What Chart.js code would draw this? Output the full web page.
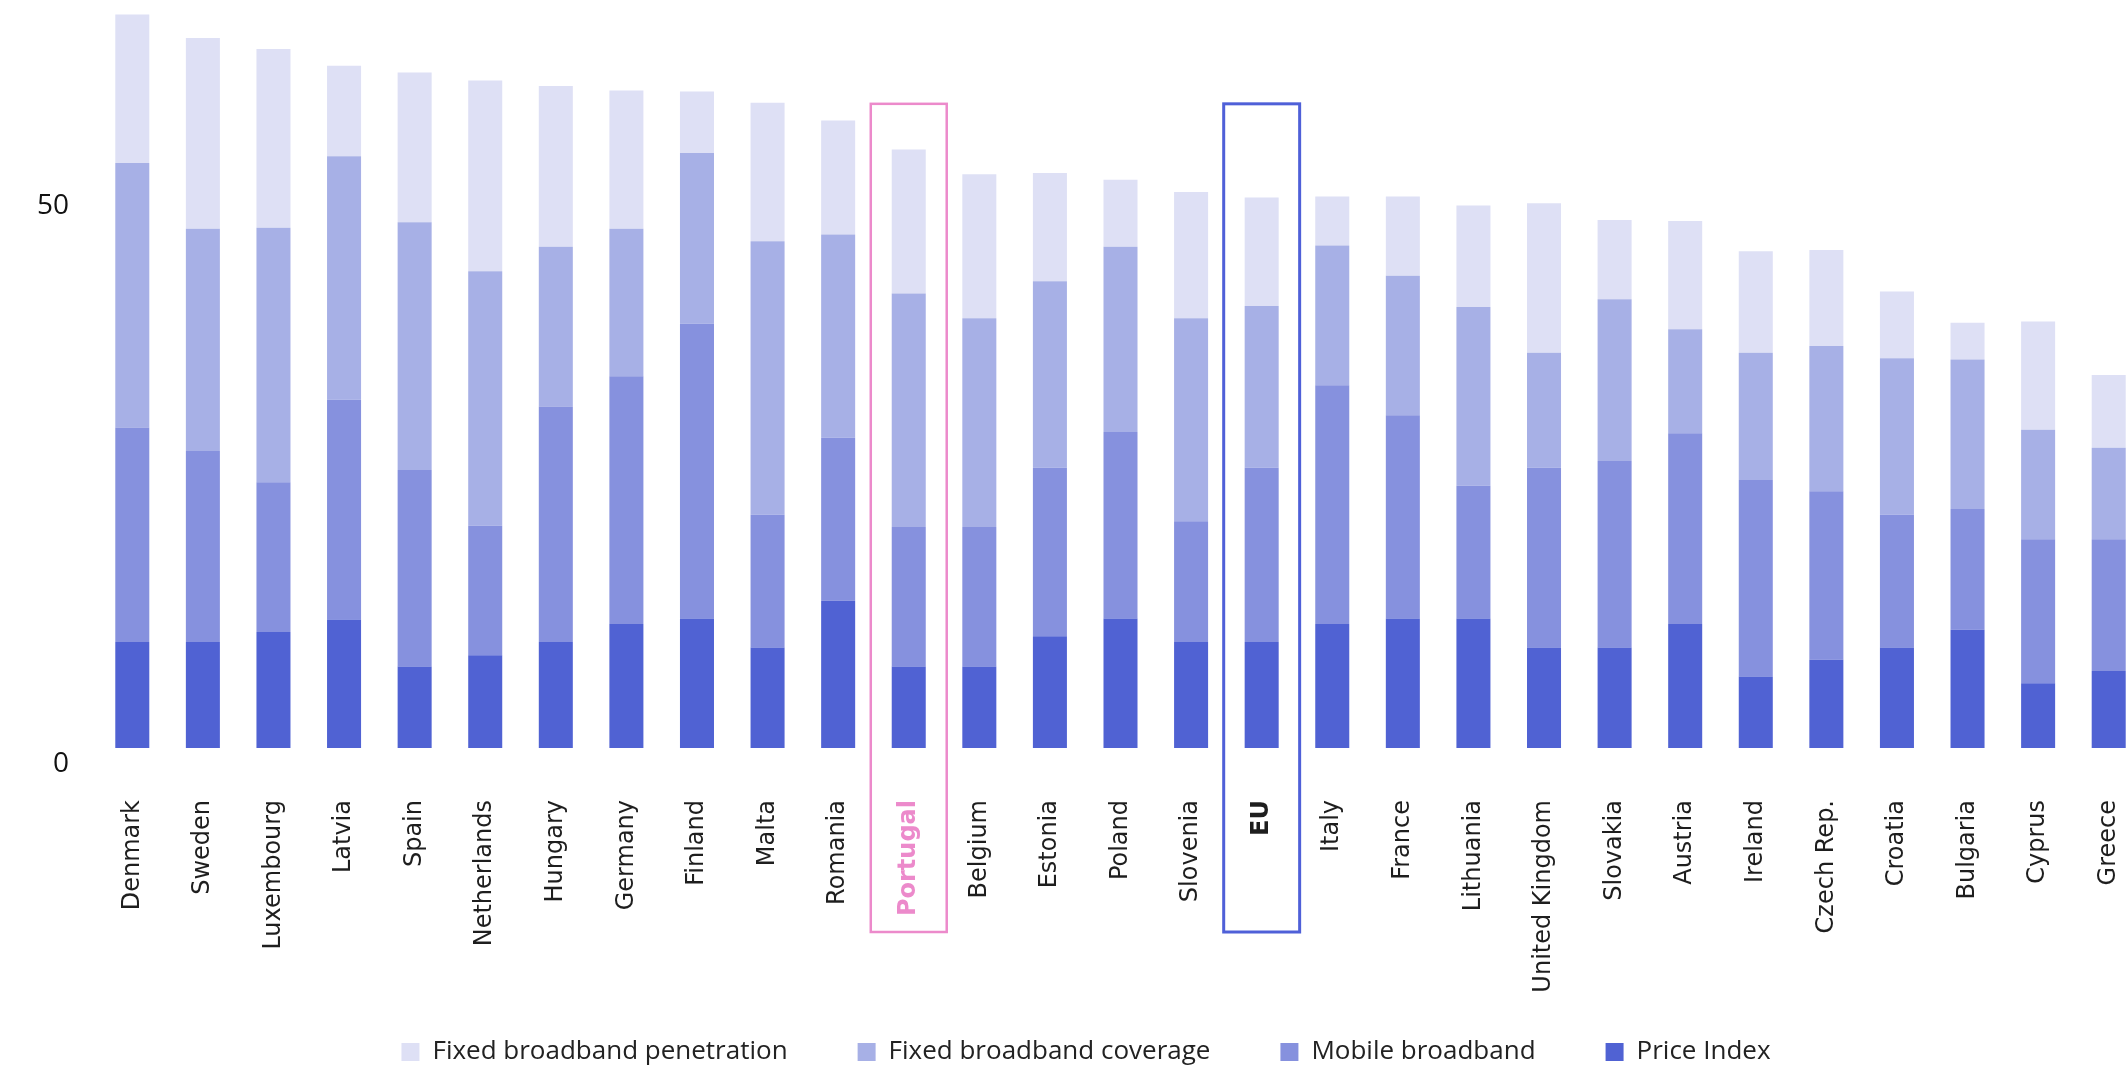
<!DOCTYPE html>
<html lang="en">
<head>
  <meta charset="UTF-8" />
  <title>Broadband index by country</title>
  <script src="https://cdn.jsdelivr.net/npm/chart.js"></script>
  <style>
    html, body { margin: 0; padding: 0; background: #fff; overflow: hidden; }
    .wrap { position: absolute; left: 0; top: 0; width: 2150px; height: 1071px; }
  </style>
</head>
<body>
  <div class="wrap">
    <canvas id="chart"></canvas>
  </div>

  <script>
    const countries = ["Denmark", "Sweden", "Luxembourg", "Latvia", "Spain", "Netherlands", "Hungary",
      "Germany", "Finland", "Malta", "Romania", "Portugal", "Belgium", "Estonia", "Poland", "Slovenia",
      "EU", "Italy", "France", "Lithuania", "United Kingdom", "Slovakia", "Austria", "Ireland",
      "Czech Rep.", "Croatia", "Bulgaria", "Cyprus", "Greece"];

    const priceIndex = [9.5, 9.5, 10.4, 11.5, 7.3, 8.3, 9.5, 11.1, 11.6, 9.0, 13.2, 7.3, 7.3, 10.0, 11.6,
      9.5, 9.5, 11.1, 11.6, 11.6, 9.0, 9.0, 11.1, 6.4, 7.9, 9.0, 10.6, 5.8, 6.9];
    const mobileBroadband = [19.2, 17.1, 13.4, 19.7, 17.6, 11.6, 21.1, 22.2, 26.4, 11.9, 14.6, 12.5, 12.5, 15.1, 16.7,
      10.8, 15.6, 21.4, 18.2, 11.9, 16.1, 16.7, 17.1, 17.6, 15.1, 11.9, 10.8, 12.9, 11.8];
    const fixedCoverage = [23.7, 19.9, 22.8, 21.8, 22.2, 22.8, 14.3, 13.2, 15.3, 24.5, 18.2, 20.9, 18.7, 16.7, 16.6,
      18.2, 14.5, 12.5, 12.5, 16.0, 10.3, 14.5, 9.3, 11.4, 13.0, 14.0, 13.4, 9.8, 8.2];
    const fixedPenetration = [13.3, 17.1, 16.0, 8.1, 13.4, 17.1, 14.4, 12.4, 5.5, 12.4, 10.2, 12.9, 12.9, 9.7, 6.0,
      11.3, 9.7, 4.4, 7.1, 9.1, 13.4, 7.1, 9.7, 9.1, 8.6, 6.0, 3.3, 9.7, 6.5];

    const yTicks = [0, 50];

    // highlighted columns: frame colour
    const highlights = { "Portugal": "#EC8ACB", "EU": "#4F60D8" };

    const frames = {
      id: "frames",
      afterInit(chart) {
        // keep the wide item spacing but pull the legend row up into the free space
        const lg = chart.legend;
        const fit = lg.fit;
        lg.fit = function () { fit.call(this); this.height -= 28; };
        const draw = lg.draw;
        lg.draw = function (area) { this.top -= 24; draw.call(this, area); this.top += 24; };
      },
      afterDraw(chart) {
        const ctx = chart.ctx;
        const x = chart.scales.x, y = chart.scales.y;
        const step = x.getPixelForValue(1) - x.getPixelForValue(0);
        Object.keys(highlights).forEach(name => {
          const cx = x.getPixelForValue(countries.indexOf(name));
          const half = step * 0.538;
          const top = y.getPixelForValue(57.7);
          const bottom = chart.chartArea.bottom + 184;
          ctx.save();
          ctx.strokeStyle = highlights[name];
          ctx.lineWidth = name === "EU" ? 3 : 2.5;
          ctx.strokeRect(cx - half, top, half * 2, bottom - top);
          ctx.restore();
        });
      }
    };

    new Chart(document.getElementById("chart"), {
      type: "bar",
      data: {
        labels: countries,
        datasets: [
          { label: "Price Index", data: priceIndex, backgroundColor: "#5062D3" },
          { label: "Mobile broadband", data: mobileBroadband, backgroundColor: "#8691DE" },
          { label: "Fixed broadband coverage", data: fixedCoverage, backgroundColor: "#A7B0E6" },
          { label: "Fixed broadband penetration", data: fixedPenetration, backgroundColor: "#DEE0F5" }
        ]
      },
      options: {
        responsive: true,
        maintainAspectRatio: false,
        animation: false,
        layout: { padding: { left: 28, right: 6, top: 0, bottom: 0 } },
        datasets: { bar: { categoryPercentage: 1, barPercentage: 0.482 } },
        scales: {
          x: {
            stacked: true,
            grid: { display: false, drawTicks: false },
            border: { display: false },
            ticks: {
              autoSkip: false,
              minRotation: 90,
              maxRotation: 90,
              padding: 52,
              color: c => countries[c.index] === "Portugal" ? "#EC8ACB" : "#1e1e1e",
              font: c => ({
                family: "DejaVu Sans",
                size: 24,
                weight: highlights[countries[c.index]] ? "bold" : "normal"
              })
            },
            afterFit: s => { s.height = 245; s.paddingLeft = 0; s.paddingRight = 0; }
          },
          y: {
            stacked: true,
            min: 0,
            max: 67,
            grid: { display: false, drawTicks: false },
            border: { display: false },
            afterBuildTicks: s => { s.ticks = yTicks.map(v => ({ value: v })); },
            ticks: {
              padding: 28,
              labelOffset: 16,
              color: "#111",
              font: { family: "Open Sans", size: 28 }
            },
            afterFit: s => { s.width = 69; s.paddingTop = 0; s.paddingBottom = 0; }
          }
        },
        plugins: {
          legend: {
            position: "bottom",
            reverse: true,
            labels: {
              boxWidth: 18,
              boxHeight: 18,
              padding: 70,
              color: "#222",
              font: { family: "Open Sans", size: 26 }
            }
          },
          tooltip: { enabled: false }
        }
      },
      plugins: [frames]
    });
  </script>
</body>
</html>
